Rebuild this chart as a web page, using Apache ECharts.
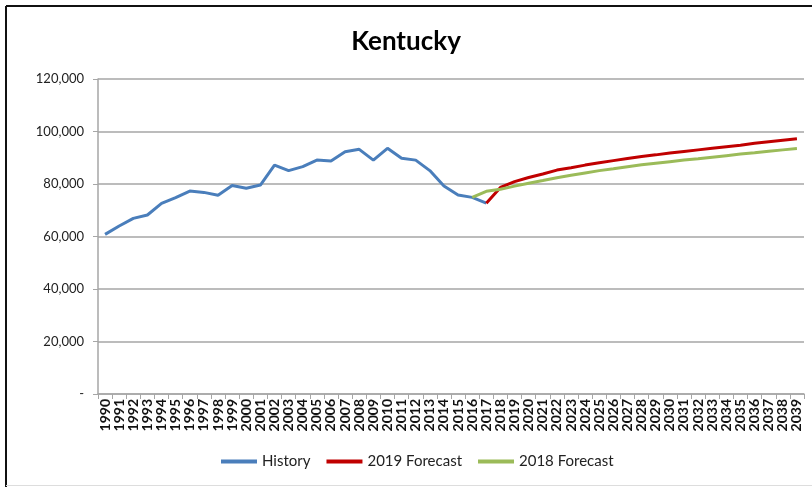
<!DOCTYPE html>
<html>
<head>
<meta charset="utf-8">
<script src="https://cdn.jsdelivr.net/npm/echarts@6/dist/echarts.min.js"></script>
<style>
  html, body { margin: 0; padding: 0; background: #fff; }
  #chart { width: 812px; height: 487px; }
</style>
</head>
<body>
<div id="chart"></div>
<script>
  const years = [];
  for (let y = 1990; y <= 2039; y++) years.push(String(y));

  // 1990 - 2017
  const history = [
    60800, 64000, 66900, 68200, 72600, 74800, 77300, 76800, 75700, 79400,
    78400, 79600, 87200, 85100, 86600, 89100, 88800, 92300, 93200, 89100,
    93600, 89800, 89100, 85100, 79200, 75800, 74900, 72700
  ];
  // 2017 - 2039
  const forecast2019 = [
    72700, 78700, 80900, 82500, 83800, 85300, 86200, 87200, 88100, 88900,
    89700, 90500, 91100, 91800, 92400, 93000, 93600, 94200, 94800, 95500,
    96100, 96700, 97200
  ];
  // 2016 - 2039
  const forecast2018 = [
    74900, 77200, 78000, 79200, 80300, 81300, 82400, 83300, 84200, 85100,
    85800, 86600, 87300, 87900, 88500, 89100, 89600, 90200, 90800, 91400,
    91900, 92500, 93000, 93500
  ];

  const pad = (arr, start) => years.map((_, i) => {
    const k = i - start;
    return k >= 0 && k < arr.length ? arr[k] : null;
  });

  const chart = echarts.init(document.getElementById('chart'));

  const axisFont = 'Lato, "Liberation Sans", sans-serif';

  chart.setOption({
    animation: false,
    title: {
      text: 'Kentucky',
      left: 'center',
      top: 24,
      textStyle: {
        fontFamily: axisFont,
        fontSize: 26,
        fontWeight: 'bold',
        color: '#000',
      },
    },
    graphic: [
      { type: 'line', shape: { x1: 6, y1: 6, x2: 812, y2: 6 }, style: { stroke: '#111', lineWidth: 2 } },
      { type: 'line', shape: { x1: 6, y1: 6, x2: 6, y2: 487 }, style: { stroke: '#111', lineWidth: 2 } },
      { type: 'line', shape: { x1: 6, y1: 485.5, x2: 812, y2: 485.5 }, style: { stroke: '#ddd', lineWidth: 1 } },
    ],
    grid: {
      left: 98,
      right: 8,
      top: 79,
      bottom: 93,
    },
    legend: {
      data: ['History', '2019 Forecast', '2018 Forecast'],
      bottom: 13,
      left: 216,
      itemWidth: 36,
      itemHeight: 4,
      itemGap: 16,
      icon: 'rect',
      textStyle: {
        fontFamily: axisFont,
        fontSize: 15,
        color: '#222',
      },
    },
    xAxis: {
      type: 'category',
      data: years,
      boundaryGap: true,
      axisLine: { lineStyle: { color: '#a6a6a6', width: 1.5 } },
      axisTick: { show: true, length: 5, lineStyle: { color: '#a6a6a6' } },
      axisLabel: {
        rotate: 90,
        interval: 0,
        fontFamily: axisFont,
        fontSize: 14,
        fontWeight: 'bold',
        color: '#111',
        margin: 5,
      },
    },
    yAxis: {
      type: 'value',
      min: 0,
      max: 120000,
      interval: 20000,
      axisLine: { show: true, lineStyle: { color: '#a6a6a6', width: 1.5 } },
      axisTick: { show: true, length: 5, lineStyle: { color: '#a6a6a6' } },
      axisLabel: {
        fontFamily: axisFont,
        fontSize: 13,
        color: '#222',
        margin: 14,
        formatter: (v) => (v === 0 ? '-' : v.toLocaleString('en-US')),
      },
      splitLine: {
        lineStyle: { color: '#a6a6a6', width: 1.5 },
      },
    },
    series: [
      {
        name: 'History',
        type: 'line',
        data: pad(history, 0),
        symbol: 'none',
        lineStyle: { color: '#4A7EBB', width: 3 },
        itemStyle: { color: '#4A7EBB' },
      },
      {
        name: '2019 Forecast',
        type: 'line',
        data: pad(forecast2019, 27),
        symbol: 'none',
        lineStyle: { color: '#C00000', width: 3 },
        itemStyle: { color: '#C00000' },
      },
      {
        name: '2018 Forecast',
        type: 'line',
        data: pad(forecast2018, 26),
        symbol: 'none',
        lineStyle: { color: '#9BBB59', width: 3 },
        itemStyle: { color: '#9BBB59' },
      },
    ],
  });
</script>
</body>
</html>
